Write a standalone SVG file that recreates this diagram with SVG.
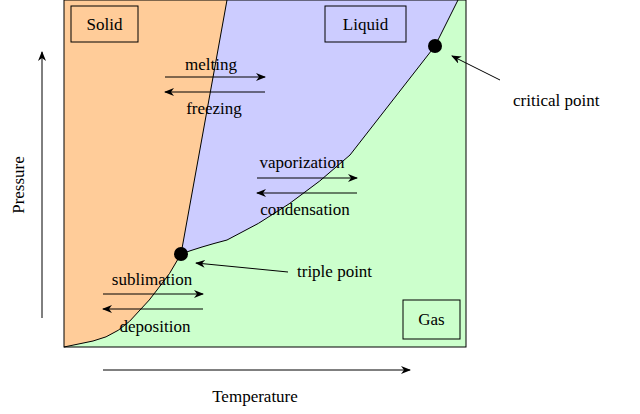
<svg xmlns="http://www.w3.org/2000/svg" width="640" height="414" viewBox="0 0 640 414">
<style>
text{font-family:"Liberation Serif",serif;font-size:17px;fill:#000}
.c{stroke:#000;stroke-width:1;fill:none}
.a{stroke:#000;stroke-width:1;fill:none;marker-end:url(#ah)}
.lb{fill:none;stroke:#000;stroke-width:1}
</style>
<defs><marker id="ah" markerWidth="10" markerHeight="8" refX="9" refY="4" orient="auto" markerUnits="userSpaceOnUse"><path d="M0,0L10,4L0,8L3,4Z" fill="#000"/></marker></defs>
<rect width="640" height="414" fill="#fff"/>
<g id="gas"><rect x="64" y="0" width="402" height="347" fill="#ccffcc"/></g>
<g id="liquid"><path d="M227,0L181,254Q200,247 227,240Q290,210 350,155L435,46L458,0Z" fill="#ccccff"/></g>
<g id="solid"><path d="M64,0L227,0L181,254Q170,275 157,290Q150,300 140,310Q120,335 93,341L64,347Z" fill="#ffcc99"/></g>
<g id="curves">
<path class="c" d="M227,0L181,254"/>
<path class="c" d="M181,254Q200,247 227,240Q290,210 350,155L435,46L458,0"/>
<path class="c" d="M181,254Q170,275 157,290Q150,300 140,310Q120,335 93,341L64,347"/>
<rect x="64" y="0" width="402" height="347" fill="none" stroke="#000"/>
</g>
<g id="solid-label"><rect class="lb" x="71" y="6" width="67" height="36"/><text x="104.5" y="30" text-anchor="middle">Solid</text></g>
<g id="liquid-label"><rect class="lb" x="325" y="6" width="81" height="36"/><text x="365.5" y="30" text-anchor="middle">Liquid</text></g>
<g id="gas-label"><rect class="lb" x="403" y="300" width="57" height="39"/><text x="431.5" y="325" text-anchor="middle">Gas</text></g>
<g id="triple"><circle cx="181" cy="254" r="7" fill="#000"/><text x="297" y="277">triple point</text></g>
<g id="critical"><circle cx="435" cy="46" r="7" fill="#000"/><text x="513" y="106">critical point</text></g>
<g id="connectors">
<path class="a" d="M165,77H265"/><path class="a" d="M265,92H165"/>
<path class="a" d="M257,178H357"/><path class="a" d="M357,193H257"/>
<path class="a" d="M103,294H203"/><path class="a" d="M203,309H103"/>
<path class="a" d="M288,272L196,263"/>
<path class="a" d="M500,80L452,56"/>
<path class="a" d="M42,318V52"/>
<path class="a" d="M103,370H410"/>
</g>
<g id="labels">
<text x="211" y="70" text-anchor="middle">melting</text>
<text x="214" y="114" text-anchor="middle">freezing</text>
<text x="302" y="168" text-anchor="middle">vaporization</text>
<text x="305" y="215" text-anchor="middle">condensation</text>
<text x="152" y="285" text-anchor="middle">sublimation</text>
<text x="155" y="332" text-anchor="middle">deposition</text>
<text x="255" y="402" text-anchor="middle">Temperature</text>
<text x="24" y="185" text-anchor="middle" transform="rotate(-90 24 185)">Pressure</text>
</g>
</svg>
